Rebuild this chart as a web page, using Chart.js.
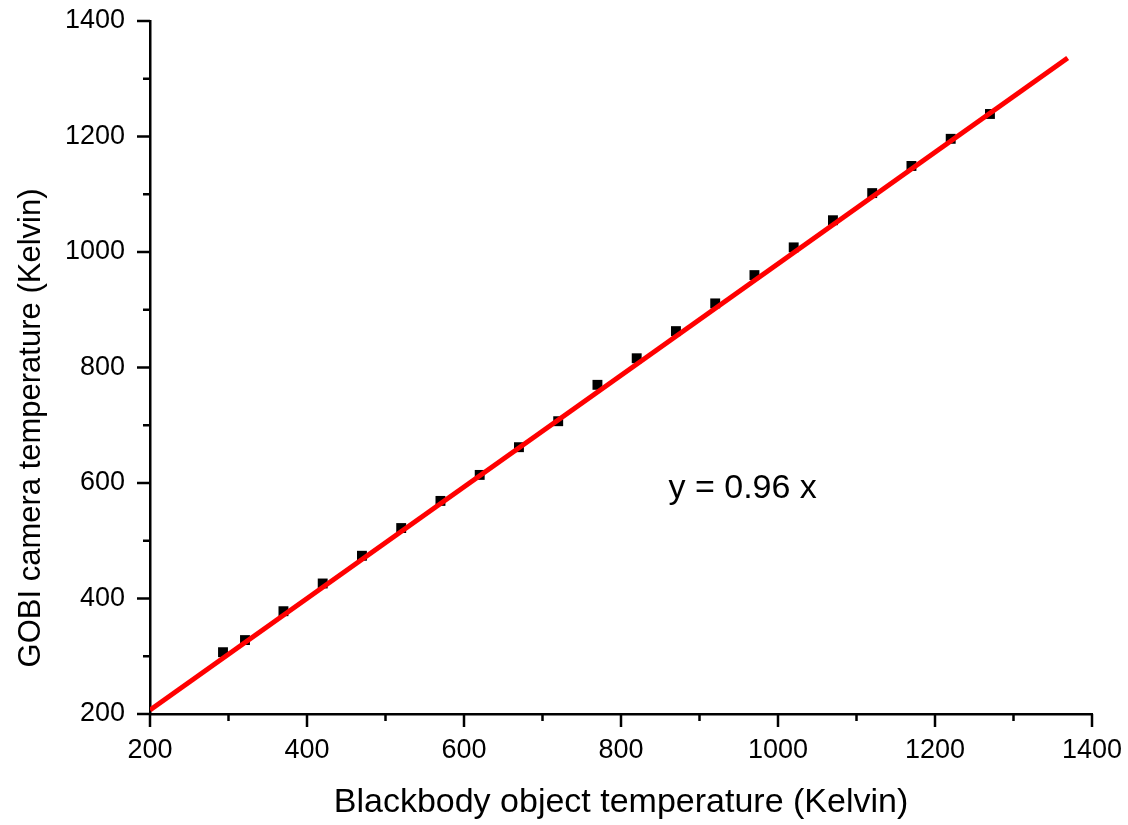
<!DOCTYPE html>
<html>
<head>
<meta charset="utf-8">
<script src="https://cdn.jsdelivr.net/npm/chart.js@4"></script>
<style>
  html, body { margin: 0; padding: 0; background: #fff; }
  #wrap { width: 1128px; height: 825px; position: relative; }
</style>
</head>
<body>
<div id="wrap"><canvas id="chart"></canvas></div>
<script>
/* Blackbody vs. GOBI camera temperature */

const blackbodyK = [293, 321, 370, 420, 470, 520, 570, 620, 670, 720, 770, 820, 870, 920, 970, 1020, 1070, 1120, 1170, 1220, 1270];
const cameraK    = [307, 328, 378, 426, 474, 522, 569, 614, 662, 707, 770, 816, 863, 911, 960, 1008, 1055, 1102, 1149, 1196, 1239];

// fitted line end points
const fitX = [200, 1369];
const fitY = [207, 1336];

const xTicks = [200, 400, 600, 800, 1000, 1200, 1400];
const yTicks = [200, 400, 600, 800, 1000, 1200, 1400];

const FONT = "'Liberation Sans', Arial, sans-serif";

// major + minor tick marks outside the axes, the y title and the fit equation
const tickMarks = {
  id: 'tickMarks',
  afterDraw(chart) {
    const ctx = chart.ctx;
    const xs = chart.scales.x, ys = chart.scales.y;
    const area = chart.chartArea;
    ctx.save();
    ctx.strokeStyle = '#000';
    ctx.lineWidth = 2.5;
    for (let v = 200; v <= 1400; v += 100) {
      const major = xTicks.includes(v);
      const px = xs.getPixelForValue(v);
      ctx.beginPath();
      ctx.moveTo(px, area.bottom);
      ctx.lineTo(px, area.bottom + (major ? 13 : 7));
      ctx.stroke();
      const py = ys.getPixelForValue(v);
      ctx.beginPath();
      ctx.moveTo(area.left, py);
      ctx.lineTo(area.left - (major ? 13 : 7), py);
      ctx.stroke();
    }
    ctx.fillStyle = '#000';
    ctx.textAlign = 'center';
    ctx.textBaseline = 'middle';
    ctx.font = '34px ' + FONT;
    ctx.fillText('y = 0.96 x', xs.getPixelForValue(955), ys.getPixelForValue(590));

    // y axis title sits a bit below the middle of the axis
    ctx.font = '31px ' + FONT;
    ctx.translate(31, 428);
    ctx.rotate(-Math.PI / 2);
    ctx.fillText('GOBI camera temperature (Kelvin)', 0, 0);
    ctx.restore();
  }
};

new Chart(document.getElementById('chart'), {
  type: 'scatter',
  data: {
    datasets: [
      {
        label: 'fit',
        data: fitX.map((x, i) => ({ x: x, y: fitY[i] })),
        showLine: true,
        borderColor: '#ff0000',
        borderWidth: 5,
        pointRadius: 0
      },
      {
        label: 'data',
        data: blackbodyK.map((x, i) => ({ x: x, y: cameraK[i] })),
        pointStyle: 'rect',
        pointRadius: 7,
        backgroundColor: '#000',
        borderColor: '#000',
        borderWidth: 0
      }
    ]
  },
  options: {
    responsive: true,
    maintainAspectRatio: false,
    animation: false,
    layout: { padding: { left: 0, right: 36, top: 21, bottom: 0 } },
    plugins: { legend: { display: false }, tooltip: { enabled: false } },
    scales: {
      x: {
        type: 'linear',
        min: 200,
        max: 1400,
        afterFit: s => { s.height = 111; s.paddingLeft = 0; s.paddingRight = 0; },
        afterBuildTicks: s => { s.ticks = xTicks.map(v => ({ value: v })); },
        border: { display: true, color: '#000', width: 2.5 },
        grid: { drawOnChartArea: false, drawTicks: true, tickLength: 13, tickColor: 'rgba(0,0,0,0)' },
        ticks: { color: '#000', font: { family: FONT, size: 27 }, padding: 7, maxRotation: 0, autoSkip: false, callback: v => String(v) },
        title: {
          display: true,
          text: 'Blackbody object temperature (Kelvin)',
          color: '#000',
          font: { family: FONT, size: 34 },
          padding: { bottom: 2 }
        }
      },
      y: {
        type: 'linear',
        min: 200,
        max: 1400,
        afterFit: s => { s.width = 150; s.paddingTop = 0; s.paddingBottom = 0; },
        afterBuildTicks: s => { s.ticks = yTicks.map(v => ({ value: v })); },
        border: { display: true, color: '#000', width: 2.5 },
        grid: { drawOnChartArea: false, drawTicks: true, tickLength: 13, tickColor: 'rgba(0,0,0,0)' },
        ticks: { color: '#000', font: { family: FONT, size: 27 }, padding: 12, autoSkip: false, callback: v => String(v) },
        title: { display: false }
      }
    }
  },
  plugins: [tickMarks]
});
</script>
</body>
</html>
